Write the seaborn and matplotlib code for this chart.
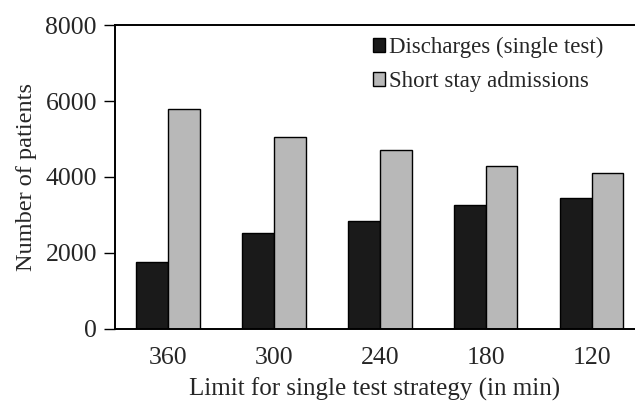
import matplotlib
matplotlib.use("Agg")
import matplotlib.pyplot as plt
import seaborn as sns
import pandas as pd

limits = ["360", "300", "240", "180", "120"]
discharges = [1750, 2520, 2840, 3260, 3440]
short_stay = [5800, 5040, 4720, 4290, 4110]
series_names = ["Discharges (single test)", "Short stay admissions"]

df = pd.DataFrame({
    "limit": limits * 2,
    "patients": discharges + short_stay,
    "series": [series_names[0]] * len(limits) + [series_names[1]] * len(limits),
})

sns.set_style("white")
plt.rcParams["font.family"] = ["Liberation Serif", "DejaVu Serif"]

fig = plt.figure(figsize=(6.35, 4.04), dpi=100)
ax = fig.add_axes([0.181, 0.186, 0.819, 0.752])

sns.barplot(data=df, x="limit", y="patients", hue="series", order=limits,
            palette=["#1a1a1a", "#b8b8b8"], width=0.6, gap=0,
            edgecolor="black", linewidth=1.0, ax=ax)

ax.set_xlim(-0.5, 4.41)
ax.set_ylim(0, 8000)
ax.set_yticks([0, 2000, 4000, 6000, 8000])
ax.tick_params(axis="y", length=8, width=1, color="black", labelsize=18.5, pad=5, left=True)
ax.tick_params(axis="x", length=0, labelsize=18.5, pad=13)

for side in ["left", "bottom", "top"]:
    ax.spines[side].set_color("black")
    ax.spines[side].set_linewidth(1.4)
ax.spines["right"].set_visible(False)

ax.set_xlabel("Limit for single test strategy (in min)", fontsize=18, labelpad=6)
ax.set_ylabel("Number of patients", fontsize=17.5, labelpad=6)

handles, labels = ax.get_legend_handles_labels()
ax.legend(handles, labels, loc="upper right", bbox_to_anchor=(0.965, 1.005),
          frameon=False, fontsize=16.5, handlelength=0.55, handleheight=0.55,
          handletextpad=0.15, labelspacing=0.55, borderaxespad=0.2)

fig.savefig("out.png", dpi=100)
